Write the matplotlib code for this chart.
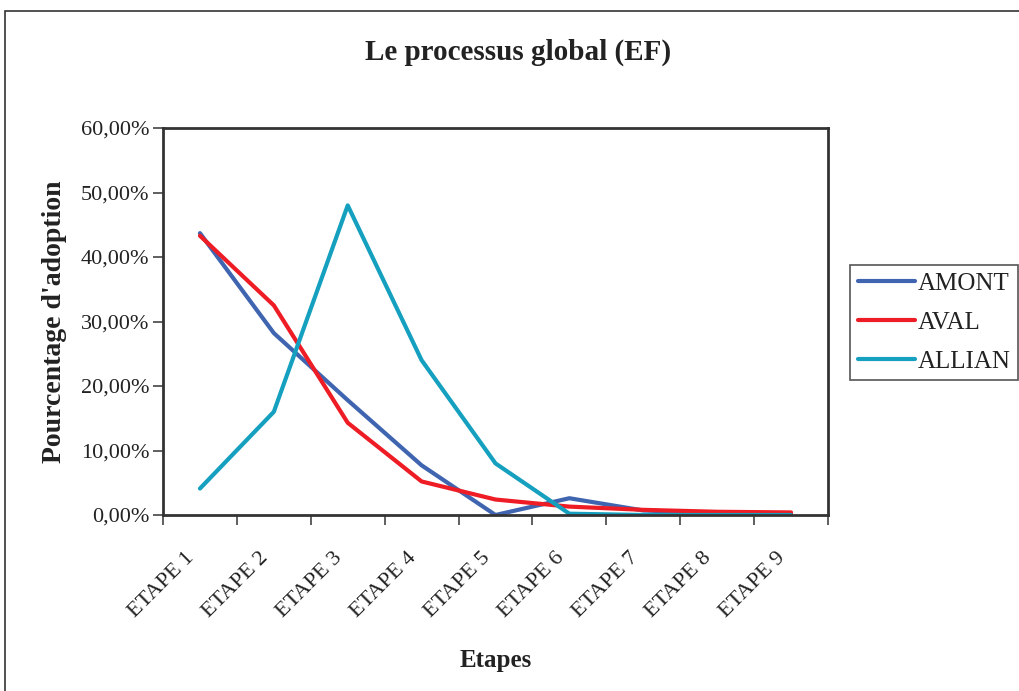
import matplotlib.pyplot as plt
from matplotlib.patches import Rectangle
from matplotlib.ticker import FuncFormatter, FixedLocator
from matplotlib.transforms import ScaledTranslation

etapes = ['ETAPE 1', 'ETAPE 2', 'ETAPE 3', 'ETAPE 4', 'ETAPE 5',
          'ETAPE 6', 'ETAPE 7', 'ETAPE 8', 'ETAPE 9']
amont = [43.7, 28.2, 17.8, 7.7, 0.0, 2.6, 0.7, 0.3, 0.2]
aval = [43.3, 32.5, 14.3, 5.2, 2.4, 1.3, 0.8, 0.5, 0.4]
allian = [4.1, 16.0, 48.0, 24.0, 8.0, 0.2, 0.0, 0.0, 0.0]

plt.rcParams['font.family'] = ['Liberation Serif', 'DejaVu Serif']

fig = plt.figure(figsize=(10.19, 6.91), dpi=100)
fig.patches.append(Rectangle((5 / 1019, -0.01), 1.05, 1 - 11 / 691 + 0.01,
                             transform=fig.transFigure, fill=False,
                             edgecolor='#333333', linewidth=1.2))

ax = fig.add_axes([163 / 1019, 1 - 515 / 691, 665 / 1019, 387 / 691])
x = list(range(len(etapes)))
ax.plot(x, amont, color='#4065B0', linewidth=3, label='AMONT', solid_capstyle='round')
ax.plot(x, aval, color='#EE1C25', linewidth=3, label='AVAL', solid_capstyle='round')
ax.plot(x, allian, color='#14A0BE', linewidth=3, label='ALLIAN', solid_capstyle='round')

ax.set_xlim(-0.5, len(etapes) - 0.5)
ax.set_ylim(0, 60)
ax.set_yticks(range(0, 61, 10))
ax.yaxis.set_major_formatter(FuncFormatter(lambda v, p: f'{v:.2f}%'.replace('.', ',')))

ax.xaxis.set_major_locator(FixedLocator([i - 0.5 for i in range(len(etapes) + 1)]))
ax.xaxis.set_major_formatter(FuncFormatter(lambda v, p: ''))
ax.xaxis.set_minor_locator(FixedLocator(x))
ax.set_xticklabels(etapes, minor=True, rotation=45, ha='right', rotation_mode='anchor')
ax.tick_params(axis='x', which='minor', length=0, pad=8, labelsize=16, labelcolor='#222222')
ax.tick_params(axis='x', which='major', length=7, width=1.2, color='#444444')
ax.tick_params(axis='y', length=7, width=1.2, color='#444444', labelsize=16,
               labelcolor='#222222', pad=3)

# nudge rotated category labels like the original
shift = ScaledTranslation(-15 / 100, -22 / 100, fig.dpi_scale_trans)
for lbl in ax.get_xticklabels(minor=True):
    lbl.set_transform(lbl.get_transform() + shift)

for s in ax.spines.values():
    s.set_linewidth(2)
    s.set_color('#333333')

ax.set_ylabel("Pourcentage d'adoption", fontsize=20, fontweight='bold', labelpad=10,
              color='#222222')
ax.set_xlabel('Etapes', fontsize=18, fontweight='bold', labelpad=20, color='#222222')
fig.text(0.508, 1 - 52 / 691, 'Le processus global (EF)', ha='center', va='center',
         fontsize=21, fontweight='bold', color='#222222')

leg = fig.legend(loc='upper left', bbox_to_anchor=(850 / 1019, 1 - 265 / 691),
                 fontsize=18, fancybox=False, edgecolor='#555555', framealpha=1,
                 handlelength=2.3, handletextpad=0.1, borderpad=0.3, labelspacing=0.65,
                 borderaxespad=0)
leg.get_frame().set_linewidth(1.2)
for t in leg.get_texts():
    t.set_color('#222222')

plt.savefig('out.png', dpi=100)
